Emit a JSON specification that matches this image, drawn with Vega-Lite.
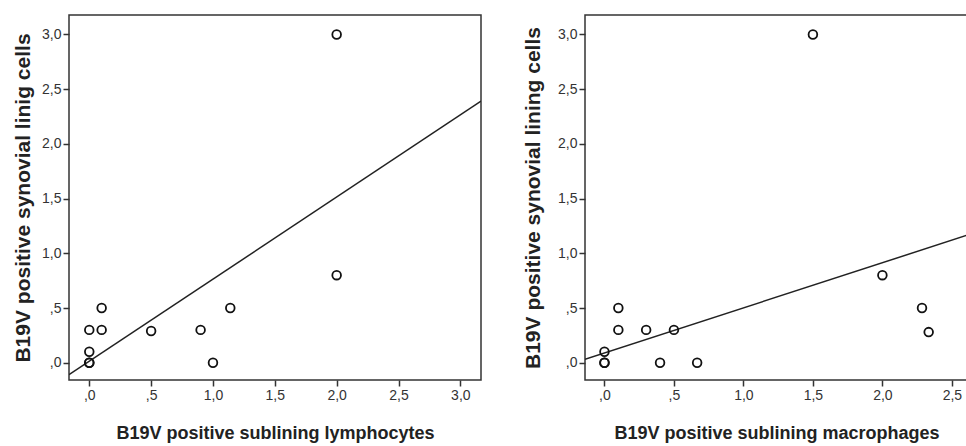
{
  "$schema": "https://vega.github.io/schema/vega-lite/v6.json",
  "padding": {"left": 11, "top": 14, "right": 0, "bottom": 0},
  "background": "white",
  "config": {
    "view": {"stroke": "#333", "strokeWidth": 1.5},
    "font": "Liberation Sans",
    "axis": {
      "grid": false,
      "domain": false,
      "tickColor": "#333",
      "tickSize": 6,
      "tickWidth": 1.5,
      "labelColor": "#333",
      "labelFont": "Liberation Sans",
      "labelFontSize": 14,
      "labelPadding": 2,
      "titleFont": "Liberation Sans",
      "titleFontWeight": "bold",
      "titleColor": "#222",
      "labelExpr": "(datum.value < 1 ? '' : floor(datum.value)) + ',' + round((datum.value % 1) * 10)"
    }
  },
  "bounds": "flush",
  "spacing": 104,
  "datasets": {
    "lymph": [
      {"x": 0, "y": 0}, {"x": 0, "y": 0}, {"x": 0, "y": 0.1}, {"x": 0, "y": 0.3},
      {"x": 0.1, "y": 0.3}, {"x": 0.1, "y": 0.5}, {"x": 0.5, "y": 0.29},
      {"x": 0.9, "y": 0.3}, {"x": 1.0, "y": 0}, {"x": 1.14, "y": 0.5},
      {"x": 2.0, "y": 3.0}, {"x": 2.0, "y": 0.8}
    ],
    "lymphFit": [{"x": -0.164, "y": -0.11}, {"x": 3.167, "y": 2.39}],
    "macro": [
      {"x": 0, "y": 0}, {"x": 0, "y": 0}, {"x": 0, "y": 0.1},
      {"x": 0.1, "y": 0.3}, {"x": 0.1, "y": 0.5}, {"x": 0.3, "y": 0.3},
      {"x": 0.4, "y": 0}, {"x": 0.5, "y": 0.3}, {"x": 0.667, "y": 0},
      {"x": 1.5, "y": 3.0}, {"x": 2.0, "y": 0.8}, {"x": 2.285, "y": 0.5},
      {"x": 2.333, "y": 0.28}
    ],
    "macroFit": [{"x": -0.14, "y": 0.031}, {"x": 2.616, "y": 1.168}]
  },
  "hconcat": [
    {
      "width": 412,
      "height": 365,
      "layer": [
        {
          "data": {"name": "lymphFit"},
          "mark": {"type": "line", "color": "#222", "strokeWidth": 1.5, "clip": true},
          "encoding": {
            "x": {"field": "x", "type": "quantitative", "scale": {"domain": [-0.164, 3.167], "nice": false, "zero": false},
                  "axis": {"values": [0, 0.5, 1, 1.5, 2, 2.5, 3], "title": "B19V positive sublining lymphocytes", "titlePadding": 22, "titleFontSize": 18}},
            "y": {"field": "y", "type": "quantitative", "scale": {"domain": [-0.158, 3.178], "nice": false, "zero": false},
                  "axis": {"values": [0, 0.5, 1, 1.5, 2, 2.5, 3], "title": "B19V positive synovial linig cells", "titlePadding": 8, "titleFontSize": 21}}
          }
        },
        {
          "data": {"name": "lymph"},
          "mark": {"type": "point", "shape": "circle", "filled": false, "color": "#111", "strokeWidth": 1.8, "size": 75, "opacity": 1},
          "encoding": {
            "x": {"field": "x", "type": "quantitative"},
            "y": {"field": "y", "type": "quantitative"}
          }
        }
      ]
    },
    {
      "width": 383,
      "height": 365,
      "layer": [
        {
          "data": {"name": "macroFit"},
          "mark": {"type": "line", "color": "#222", "strokeWidth": 1.5, "clip": true},
          "encoding": {
            "x": {"field": "x", "type": "quantitative", "scale": {"domain": [-0.14, 2.616], "nice": false, "zero": false},
                  "axis": {"values": [0, 0.5, 1, 1.5, 2, 2.5], "title": "B19V positive sublining macrophages", "titlePadding": 22, "titleFontSize": 18}},
            "y": {"field": "y", "type": "quantitative", "scale": {"domain": [-0.158, 3.178], "nice": false, "zero": false},
                  "axis": {"values": [0, 0.5, 1, 1.5, 2, 2.5, 3], "title": "B19V positive synovial lining cells", "titlePadding": 14, "titleFontSize": 21}}
          }
        },
        {
          "data": {"name": "macro"},
          "mark": {"type": "point", "shape": "circle", "filled": false, "color": "#111", "strokeWidth": 1.8, "size": 75, "opacity": 1},
          "encoding": {
            "x": {"field": "x", "type": "quantitative"},
            "y": {"field": "y", "type": "quantitative"}
          }
        }
      ]
    }
  ]
}
